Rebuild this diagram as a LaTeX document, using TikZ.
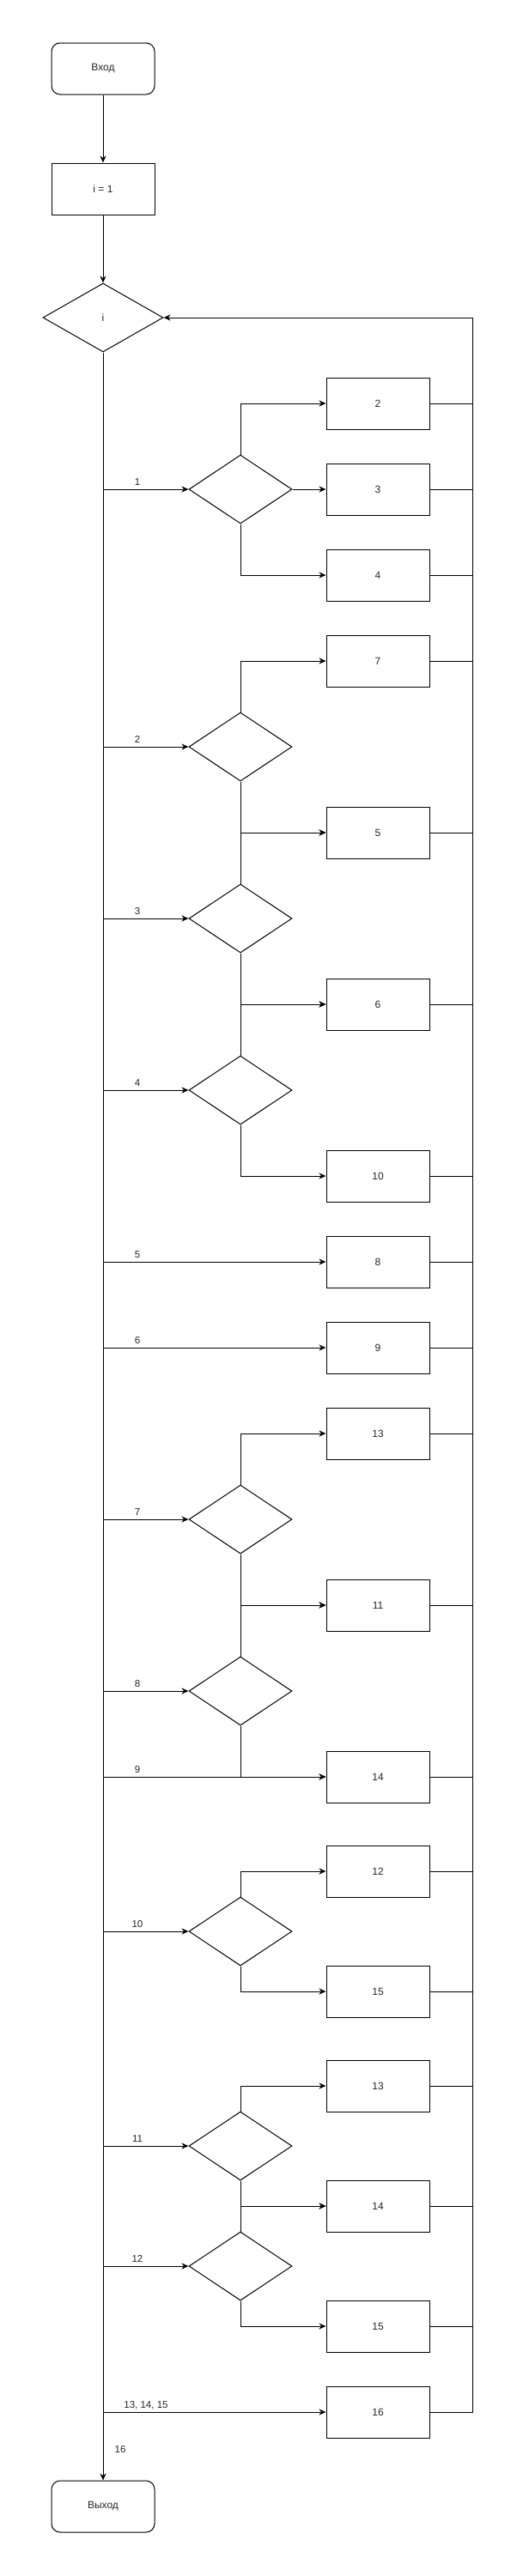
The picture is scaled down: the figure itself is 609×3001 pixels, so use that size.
\documentclass[tikz,border=0pt]{standalone}
\usepackage{fontspec}
\setmainfont{Liberation Sans}
\usetikzlibrary{arrows.meta,shapes.geometric}
\begin{document}
\begin{tikzpicture}[x=1pt,y=-1pt,
  base/.style={draw=black, line width=1pt, inner sep=0pt, text=black!85,
    font=\fontsize{12}{14}\selectfont},
  proc/.style={base, rectangle, minimum width=120pt, minimum height=60pt},
  term/.style={proc, rounded corners=10pt},
  dec/.style={base, diamond, minimum width=120pt, minimum height=80pt},
  line/.style={draw=black, line width=1pt},
  arr/.style={line, -{Stealth[length=8pt,width=7pt,inset=2.5pt]}},
  lbl/.style={inner sep=0pt, anchor=base, text=black!85,
    font=\fontsize{11.5}{13}\selectfont}
]
\fill[white] (0,0) rectangle (609,3001);
\useasboundingbox (0,0) rectangle (609,3001);

% main column
\node[term] (start) at (120,80) {Вход};
\node[proc] (init) at (120,220) {i = 1};
\node[dec, minimum width=140pt] (di) at (120,370) {i};
\node[term] (stop) at (120,2920) {Выход};

% decisions
\node[dec] (d1) at (280,570) {};
\node[dec] (d2) at (280,870) {};
\node[dec] (d3) at (280,1070) {};
\node[dec] (d4) at (280,1270) {};
\node[dec] (d7) at (280,1770) {};
\node[dec] (d8) at (280,1970) {};
\node[dec] (d10) at (280,2250) {};
\node[dec] (d11) at (280,2500) {};
\node[dec] (d12) at (280,2640) {};

% right column boxes
\node[proc] (b2) at (440,470) {2};
\node[proc] (b3) at (440,570) {3};
\node[proc] (b4) at (440,670) {4};
\node[proc] (b7) at (440,770) {7};
\node[proc] (b5) at (440,970) {5};
\node[proc] (b6) at (440,1170) {6};
\node[proc] (b10) at (440,1370) {10};
\node[proc] (b8) at (440,1470) {8};
\node[proc] (b9) at (440,1570) {9};
\node[proc] (b13) at (440,1670) {13};
\node[proc] (b11) at (440,1870) {11};
\node[proc] (b14) at (440,2070) {14};
\node[proc] (b12) at (440,2180) {12};
\node[proc] (b15) at (440,2320) {15};
\node[proc] (b13b) at (440,2430) {13};
\node[proc] (b14b) at (440,2570) {14};
\node[proc] (b15b) at (440,2710) {15};
\node[proc] (b16) at (440,2810) {16};

\coordinate (looptop) at (550,370);

% main flow
\draw[arr] (start) -- (init);
\draw[arr] (init) -- (di);
\draw[arr] (di.south) -- (stop.north);
\node[lbl] (l16) at (140,2857) {16};

% branches from the main line
\draw[arr] (di.south |- d1.west) -- (d1.west) node[lbl, pos=0, xshift=40pt, yshift=5pt] {1};
\draw[arr] (di.south |- d2.west) -- (d2.west) node[lbl, pos=0, xshift=40pt, yshift=5pt] {2};
\draw[arr] (di.south |- d3.west) -- (d3.west) node[lbl, pos=0, xshift=40pt, yshift=5pt] {3};
\draw[arr] (di.south |- d4.west) -- (d4.west) node[lbl, pos=0, xshift=40pt, yshift=5pt] {4};
\draw[arr] (di.south |- b8.west) -- (b8.west) node[lbl, pos=0, xshift=40pt, yshift=5pt] {5};
\draw[arr] (di.south |- b9.west) -- (b9.west) node[lbl, pos=0, xshift=40pt, yshift=5pt] {6};
\draw[arr] (di.south |- d7.west) -- (d7.west) node[lbl, pos=0, xshift=40pt, yshift=5pt] {7};
\draw[arr] (di.south |- d8.west) -- (d8.west) node[lbl, pos=0, xshift=40pt, yshift=5pt] {8};
\draw[arr] (di.south |- b14.west) -- (b14.west) node[lbl, pos=0, xshift=40pt, yshift=5pt] {9};
\draw[arr] (di.south |- d10.west) -- (d10.west) node[lbl, pos=0, xshift=40pt, yshift=5pt] {10};
\draw[arr] (di.south |- d11.west) -- (d11.west) node[lbl, pos=0, xshift=40pt, yshift=5pt] {11};
\draw[arr] (di.south |- d12.west) -- (d12.west) node[lbl, pos=0, xshift=40pt, yshift=5pt] {12};
\draw[arr] (di.south |- b16.west) -- (b16.west) node[lbl, pos=0, xshift=50pt, yshift=5pt] {13, 14, 15};

% decision outputs
\draw[arr] (d1.north) |- (b2.west);
\draw[arr] (d1.east) -- (b3.west);
\draw[arr] (d1.south) |- (b4.west);
\draw[arr] (d2.north) |- (b7.west);
\draw[arr] (d2.south) |- (b5.west);
\draw[arr] (d3.north) |- (b5.west);
\draw[arr] (d3.south) |- (b6.west);
\draw[arr] (d4.north) |- (b6.west);
\draw[arr] (d4.south) |- (b10.west);
\draw[arr] (d7.north) |- (b13.west);
\draw[arr] (d7.south) |- (b11.west);
\draw[arr] (d8.north) |- (b11.west);
\draw[arr] (d8.south) |- (b14.west);
\draw[arr] (d10.north) |- (b12.west);
\draw[arr] (d10.south) |- (b15.west);
\draw[arr] (d11.north) |- (b13b.west);
\draw[arr] (d11.south) |- (b14b.west);
\draw[arr] (d12.north) |- (b14b.west);
\draw[arr] (d12.south) |- (b15b.west);

% return line
\foreach \b in {b2,b3,b4,b7,b5,b6,b10,b8,b9,b13,b11,b14,b12,b15,b13b,b14b,b15b}
  \draw[line] (\b.east) -- (\b.east -| looptop);
\draw[arr] (b16.east) -- (b16.east -| looptop) |- (di.east);
\end{tikzpicture}
\end{document}
